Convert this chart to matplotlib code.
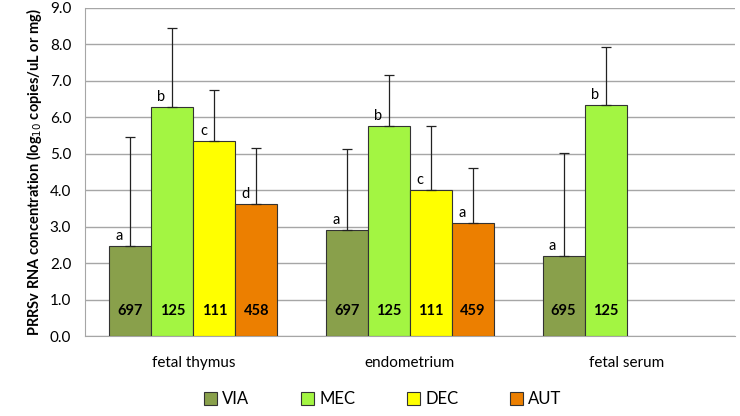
import matplotlib.pyplot as plt
import numpy as np

categories = ['fetal thymus', 'endometrium', 'fetal serum']
series = ['VIA', 'MEC', 'DEC', 'AUT']
colors = ['#89a04b', '#a3f542', '#ffff00', '#ec7f00']

# mean log10 copies, upper error bar (sd), letter, n
means = {
    'VIA': [2.47, 2.91, 2.21],
    'MEC': [6.28, 5.76, 6.34],
    'DEC': [5.35, 4.02, None],
    'AUT': [3.62, 3.11, None],
}
errs = {
    'VIA': [2.99, 2.22, 2.81],
    'MEC': [2.18, 1.41, 1.60],
    'DEC': [1.41, 1.74, None],
    'AUT': [1.55, 1.51, None],
}
letters = {
    'VIA': ['a', 'a', 'a'],
    'MEC': ['b', 'b', 'b'],
    'DEC': ['c', 'c', None],
    'AUT': ['d', 'a', None],
}
counts = {
    'VIA': ['697', '697', '695'],
    'MEC': ['125', '125', '125'],
    'DEC': ['111', '111', None],
    'AUT': ['458', '459', None],
}

plt.rcParams['font.family'] = ['Lato', 'DejaVu Sans']

fig = plt.figure(figsize=(7.4, 4.16), dpi=100)
ax = fig.add_axes([0.115, 0.192, 0.878, 0.789])

x = np.arange(len(categories))
w = 0.194
for i, s in enumerate(series):
    for j in range(len(categories)):
        m = means[s][j]
        if m is None:
            continue
        xp = x[j] + (i - 1.5) * w
        ax.bar(xp, m, w, color=colors[i], edgecolor='#333333', linewidth=0.8, zorder=3)
        ax.errorbar(xp, m, yerr=[[0], [errs[s][j]]], fmt='none', ecolor='#222222',
                    elinewidth=0.9, capsize=3.5, capthick=0.9, zorder=4)
        ax.text(xp - 0.05, m + 0.08, letters[s][j], ha='center', va='bottom',
                fontsize=10.5, color='black', zorder=5)
        ax.text(xp, 0.7, counts[s][j], ha='center', va='center',
                fontsize=10.5, fontweight='bold', color='black', zorder=5)

ax.set_xlim(-0.5, 2.5)
ax.set_ylim(0, 9)
ax.set_yticks(np.arange(0, 9.1, 1.0))
ax.set_yticklabels([f'{v:.1f}' for v in np.arange(0, 9.1, 1.0)], fontsize=11)
ax.set_xticks(x)
ax.set_xticklabels(categories, fontsize=11)
ax.tick_params(axis='both', length=0, pad=10)
ax.tick_params(axis='x', pad=14)
ax.yaxis.grid(True, color='#a6a6a6', linewidth=1, zorder=0)
ax.set_axisbelow(True)
for sp in ['top', 'right']:
    ax.spines[sp].set_visible(False)
ax.spines['left'].set_color('#a6a6a6')
ax.spines['bottom'].set_color('#a6a6a6')
ax.set_ylabel('PRRSv RNA concentration (log$_{10}$ copies/uL or mg)',
              fontsize=10.5, fontweight='bold', labelpad=4)

handles = [plt.Rectangle((0, 0), 1, 1, facecolor=c, edgecolor='#333333', linewidth=0.8)
           for c in colors]
fig.legend(handles, series, loc='lower center', bbox_to_anchor=(0.517, -0.015), ncol=4,
           frameon=False, fontsize=12, handlelength=0.8, handleheight=0.8,
           handletextpad=0.3, columnspacing=3.1)

fig.savefig('out.png', dpi=100)
